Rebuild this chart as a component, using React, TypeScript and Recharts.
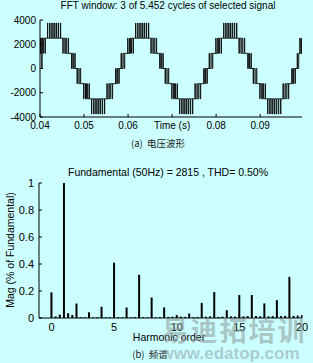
import React from "react";
import { LineChart, Line, XAxis, YAxis, BarChart, Bar } from "recharts";

const W = 313;
const H = 363;
const BG = "#ccffff";
const SANS = "'Liberation Sans', Arial, Helvetica, sans-serif";
const CJK = "'Noto Sans CJK SC', sans-serif";

const topTitle = "FFT window: 3 of 5.452 cycles of selected signal";
const topCaption = "(a)  电压波形";
const bottomTitle = "Fundamental (50Hz) = 2815 , THD= 0.50%";
const bottomCaption = "(b)  频谱";
const xLabelBottom = "Harmonic order";
const yLabelBottom = "Mag (% of Fundamental)";
const watermark1 = "易迪拓培训";
const watermark2 = "www.edatop.com";

// ---- top chart: voltage waveform ----
const timeTicks = [0.04, 0.05, 0.06, 0.07, 0.08, 0.09];
const timeTickLabels = ["0.04", "0.05", "0.06", "Time (s)", "0.08", "0.09"];
const voltTicks = [-4000, -2000, 0, 2000, 4000];
const voltTickLabels = ["-4000", "-2000", "0", "2000", "4000"];

// [time ms, voltage V] switching instants
const halfA: [number, number][] = [
  [40.0, 2500], [40.12, 1250], [40.2, 2500], [40.4, 0], [40.47, 2500], [40.62, 1250], [40.77, 2500],
  [41.13, 1250], [41.22, 2500], [41.7, 3750], [41.76, 2500], [42.18, 3750], [42.28, 2500],
  [42.66, 3750], [42.78, 2500], [43.14, 3750], [43.26, 2500], [43.62, 3750], [43.74, 2500],
  [44.12, 3750], [44.22, 2500], [44.64, 3750], [44.7, 2500], [45.18, 1250], [45.27, 2500],
  [45.63, 1250], [45.84, 2500], [46.06, 1250], [46.41, 2500], [46.49, 1250], [47.16, 0],
  [47.32, 1250], [47.58, 0], [47.91, 1250], [47.99, 0],
];
const halfB: [number, number][] = [
  [48.41, -1250], [48.49, 0], [48.82, -1250], [49.08, 0], [49.24, -1250], [49.91, -2500], [49.99, -1250],
  [50.34, -2500], [50.56, -1250], [50.77, -2500], [51.13, -1250], [51.22, -2500],
  [51.7, -3750], [51.76, -2500], [52.18, -3750], [52.28, -2500], [52.66, -3750], [52.78, -2500],
  [53.14, -3750], [53.26, -2500], [53.62, -3750], [53.74, -2500], [54.12, -3750], [54.22, -2500],
  [54.64, -3750], [54.7, -2500], [55.18, -1250], [55.27, -2500], [55.63, -1250], [55.84, -2500],
  [56.06, -1250], [56.41, -2500], [56.49, -1250], [57.16, 0], [57.32, -1250], [57.58, 0],
  [57.91, -1250], [57.99, 0],
];
const halfC: [number, number][] = [
  [58.41, 1250], [58.49, 0], [58.82, 1250], [59.08, 0], [59.24, 1250], [59.91, 2500], [59.99, 1250],
  [60.34, 2500], [60.56, 1250], [60.77, 2500], [61.13, 1250], [61.22, 2500],
  [61.7, 3750], [61.76, 2500], [62.18, 3750], [62.28, 2500], [62.66, 3750], [62.78, 2500],
  [63.14, 3750], [63.26, 2500], [63.62, 3750], [63.74, 2500], [64.12, 3750], [64.22, 2500],
  [64.64, 3750], [64.7, 2500], [65.18, 1250], [65.27, 2500], [65.63, 1250], [65.84, 2500],
  [66.06, 1250], [66.41, 2500], [66.49, 1250], [67.16, 0], [67.32, 1250], [67.58, 0],
  [67.91, 1250], [67.99, 0],
];
const halfD: [number, number][] = [
  [68.41, -1250], [68.49, 0], [68.82, -1250], [69.08, 0], [69.24, -1250], [69.91, -2500], [69.99, -1250],
  [70.34, -2500], [70.56, -1250], [70.77, -2500], [71.13, -1250], [71.22, -2500],
  [71.7, -3750], [71.76, -2500], [72.18, -3750], [72.28, -2500], [72.66, -3750], [72.78, -2500],
  [73.14, -3750], [73.26, -2500], [73.62, -3750], [73.74, -2500], [74.12, -3750], [74.22, -2500],
  [74.64, -3750], [74.7, -2500], [75.18, -1250], [75.27, -2500], [75.63, -1250], [75.84, -2500],
  [76.06, -1250], [76.41, -2500], [76.49, -1250], [77.16, 0], [77.32, -1250], [77.58, 0],
  [77.91, -1250], [77.99, 0],
];
const halfE: [number, number][] = [
  [78.41, 1250], [78.49, 0], [78.82, 1250], [79.08, 0], [79.24, 1250], [79.91, 2500], [79.99, 1250],
  [80.34, 2500], [80.56, 1250], [80.77, 2500], [81.13, 1250], [81.22, 2500],
  [81.7, 3750], [81.76, 2500], [82.18, 3750], [82.28, 2500], [82.66, 3750], [82.78, 2500],
  [83.14, 3750], [83.26, 2500], [83.62, 3750], [83.74, 2500], [84.12, 3750], [84.22, 2500],
  [84.64, 3750], [84.7, 2500], [85.18, 1250], [85.27, 2500], [85.63, 1250], [85.84, 2500],
  [86.06, 1250], [86.41, 2500], [86.49, 1250], [87.16, 0], [87.32, 1250], [87.58, 0],
  [87.91, 1250], [87.99, 0],
];
const halfF: [number, number][] = [
  [88.41, -1250], [88.49, 0], [88.82, -1250], [89.08, 0], [89.24, -1250], [89.91, -2500], [89.99, -1250],
  [90.34, -2500], [90.56, -1250], [90.77, -2500], [91.13, -1250], [91.22, -2500],
  [91.7, -3750], [91.76, -2500], [92.18, -3750], [92.28, -2500], [92.66, -3750], [92.78, -2500],
  [93.14, -3750], [93.26, -2500], [93.62, -3750], [93.74, -2500], [94.12, -3750], [94.22, -2500],
  [94.64, -3750], [94.7, -2500], [95.18, -1250], [95.27, -2500], [95.63, -1250], [95.84, -2500],
  [96.06, -1250], [96.41, -2500], [96.49, -1250], [97.16, 0], [97.32, -1250], [97.58, 0],
  [97.91, -1250], [97.99, 0],
];
const halfG: [number, number][] = [
  [98.41, 1250], [98.49, 0], [98.76, 1250], [99.0, 2500], [99.08, 1250], [99.3, 2500], [99.38, 1250],
  [99.5, 1250],
];

const waveData = [...halfA, ...halfB, ...halfC, ...halfD, ...halfE, ...halfF, ...halfG].map(
  ([ms, v]) => ({ t: ms / 1000, v })
);

// ---- bottom chart: spectrum ----
const harmonicOrder = [
  0, 0.333, 0.667, 1, 1.333, 1.667, 2, 2.333, 2.667, 3, 3.333, 3.667, 4, 4.333, 4.667,
  5, 5.333, 5.667, 6, 6.333, 6.667, 7, 7.333, 7.667, 8, 8.333, 8.667, 9, 9.333, 9.667,
  10, 10.333, 10.667, 11, 11.333, 11.667, 12, 12.333, 12.667, 13, 13.333, 13.667, 14, 14.333, 14.667,
  15, 15.333, 15.667, 16, 16.333, 16.667, 17, 17.333, 17.667, 18, 18.333, 18.667, 19, 19.333, 19.667, 20,
];
const harmonicMag = [
  0.19, 0.012, 0.025, 1.0, 0.035, 0.022, 0.107, 0.006, 0.005, 0.042, 0.005, 0.006, 0.083, 0.005, 0.006,
  0.41, 0.006, 0.005, 0.078, 0.005, 0.006, 0.32, 0.006, 0.005, 0.152, 0.005, 0.006, 0.078, 0.008, 0.01,
  0.02, 0.01, 0.008, 0.033, 0.006, 0.008, 0.112, 0.01, 0.012, 0.192, 0.008, 0.01, 0.058, 0.012, 0.01,
  0.17, 0.012, 0.014, 0.17, 0.014, 0.012, 0.108, 0.012, 0.014, 0.132, 0.014, 0.016, 0.305, 0.016, 0.018, 0.02,
];
const spectrumData = harmonicOrder.map((order, i) => ({ order, mag: harmonicMag[i] }));
const orderTicks = [0, 5, 10, 15, 20];
const orderTickLabels = ["0", "5", "10", "15", "20"];
const magTicks = [0, 0.2, 0.4, 0.6, 0.8, 1];
const magTickLabels = ["0", "0.2", "0.4", "0.6", "0.8", "1"];

type Side = "bottom" | "top" | "left" | "right";

function makeTick(side: Side, ticks: number[], labels: string[] | null, fontSize: number, offset: number) {
  return (props: any) => {
    const { x, y, payload } = props;
    const idx = ticks.findIndex((t) => Math.abs(t - payload.value) < 1e-9);
    const label = labels && idx >= 0 ? labels[idx] : null;
    const L = 3;
    let line;
    let text = null;
    if (side === "bottom") {
      line = <line x1={x} x2={x} y1={y} y2={y - L} stroke="#000" />;
      if (label)
        text = (
          <text x={x} y={y + offset} textAnchor="middle" fontSize={fontSize} fontFamily={SANS} fill="#000">
            {label}
          </text>
        );
    } else if (side === "top") {
      line = <line x1={x} x2={x} y1={y} y2={y + L} stroke="#000" />;
    } else if (side === "left") {
      line = <line x1={x} x2={x + L} y1={y} y2={y} stroke="#000" />;
      if (label)
        text = (
          <text x={x - offset} y={y + fontSize * 0.36} textAnchor="end" fontSize={fontSize} fontFamily={SANS} fill="#000">
            {label}
          </text>
        );
    } else {
      line = <line x1={x} x2={x - L} y1={y} y2={y} stroke="#000" />;
    }
    return (
      <g>
        {line}
        {text}
      </g>
    );
  };
}

function Txt(props: { cx: number; cy: number; size: number; font?: string; color?: string; weight?: number; rotate?: boolean; children: React.ReactNode; spacing?: number }) {
  const { cx, cy, size, font, color, weight, rotate, children, spacing } = props;
  return (
    <div
      style={{
        position: "absolute",
        left: cx,
        top: cy,
        transform: `translate(-50%, -50%)${rotate ? " rotate(-90deg)" : ""}`,
        fontSize: size,
        fontFamily: font || SANS,
        color: color || "#000",
        fontWeight: weight || 400,
        whiteSpace: "pre",
        lineHeight: 1,
        letterSpacing: spacing || 0,
      }}
    >
      {children}
    </div>
  );
}

const axisLine = { stroke: "#000" };

export default function App() {
  return (
    <div style={{ position: "absolute", left: 0, top: 0, width: W, height: H, background: BG, overflow: "hidden" }}>
      <div style={{ position: "absolute", left: 0, top: 0 }}>
        <LineChart width={313} height={140} data={waveData} margin={{ top: 20, right: 11, left: 0, bottom: 0 }}>
          <XAxis
            xAxisId="b"
            type="number"
            dataKey="t"
            domain={[0.04, 0.0995]}
            allowDataOverflow
            ticks={timeTicks}
            interval={0}
            height={23}
            tickSize={0}
            tickMargin={0}
            tickLine={false}
            axisLine={axisLine}
            tick={makeTick("bottom", timeTicks, timeTickLabels, 10, 12)}
          />
          <XAxis
            xAxisId="t"
            orientation="top"
            type="number"
            dataKey="t"
            domain={[0.04, 0.0995]}
            allowDataOverflow
            ticks={timeTicks}
            interval={0}
            height={0}
            tickSize={0}
            tickMargin={0}
            tickLine={false}
            axisLine={axisLine}
            tick={makeTick("top", timeTicks, null, 10, 0)}
          />
          <YAxis
            yAxisId="l"
            type="number"
            domain={[-4000, 4000]}
            allowDataOverflow
            ticks={voltTicks}
            interval={0}
            width={40}
            tickSize={0}
            tickMargin={0}
            tickLine={false}
            axisLine={axisLine}
            tick={makeTick("left", voltTicks, voltTickLabels, 10, 4)}
          />
          <YAxis
            yAxisId="r"
            orientation="right"
            type="number"
            domain={[-4000, 4000]}
            allowDataOverflow
            ticks={voltTicks}
            interval={0}
            width={0}
            tickSize={0}
            tickMargin={0}
            tickLine={false}
            axisLine={axisLine}
            tick={makeTick("right", voltTicks, null, 10, 0)}
          />
          <Line
            xAxisId="b"
            yAxisId="l"
            type="stepAfter"
            dataKey="v"
            stroke="#141414"
            strokeWidth={1}
            dot={false}
            isAnimationActive={false}
          />
        </LineChart>
      </div>

      <div style={{ position: "absolute", left: 0, top: 160 }}>
        <BarChart width={313} height={180} data={spectrumData} margin={{ top: 23, right: 11, left: 0, bottom: 0 }}>
          <XAxis
            xAxisId="b"
            type="number"
            dataKey="order"
            domain={[-1, 20]}
            allowDataOverflow
            ticks={orderTicks}
            interval={0}
            height={22}
            tickSize={0}
            tickMargin={0}
            tickLine={false}
            axisLine={axisLine}
            tick={makeTick("bottom", orderTicks, orderTickLabels, 11, 13)}
          />
          <XAxis
            xAxisId="t"
            orientation="top"
            type="number"
            dataKey="order"
            domain={[-1, 20]}
            allowDataOverflow
            ticks={orderTicks}
            interval={0}
            height={0}
            tickSize={0}
            tickMargin={0}
            tickLine={false}
            axisLine={axisLine}
            tick={makeTick("top", orderTicks, null, 11, 0)}
          />
          <YAxis
            yAxisId="l"
            type="number"
            domain={[0, 1]}
            allowDataOverflow
            ticks={magTicks}
            interval={0}
            width={39}
            tickSize={0}
            tickMargin={0}
            tickLine={false}
            axisLine={axisLine}
            tick={makeTick("left", magTicks, magTickLabels, 11, 5)}
          />
          <YAxis
            yAxisId="r"
            orientation="right"
            type="number"
            domain={[0, 1]}
            allowDataOverflow
            ticks={magTicks}
            interval={0}
            width={0}
            tickSize={0}
            tickMargin={0}
            tickLine={false}
            axisLine={axisLine}
            tick={makeTick("right", magTicks, null, 11, 0)}
          />
          <Bar xAxisId="b" yAxisId="l" dataKey="mag" fill="#000" barSize={2} isAnimationActive={false} />
        </BarChart>
      </div>

      <Txt cx={168} cy={6} size={10}>{topTitle}</Txt>
      <Txt cx={158} cy={144} size={9.5} font={CJK} color="#222">{topCaption}</Txt>
      <Txt cx={168} cy={172} size={10.5}>{bottomTitle}</Txt>
      <Txt cx={10} cy={250} size={10.5} rotate>{yLabelBottom}</Txt>
      <Txt cx={169} cy={337} size={10.5}>{xLabelBottom}</Txt>
      <Txt cx={150} cy={355} size={9.5} font={CJK} color="#222">{bottomCaption}</Txt>

      <Txt cx={234} cy={329} size={27} font={CJK} weight={700} color="rgba(140,150,150,0.55)" spacing={2}>{watermark1}</Txt>
      <Txt cx={230} cy={353} size={17} font={SANS} weight={700} color="rgba(140,160,170,0.55)">{watermark2}</Txt>
    </div>
  );
}
